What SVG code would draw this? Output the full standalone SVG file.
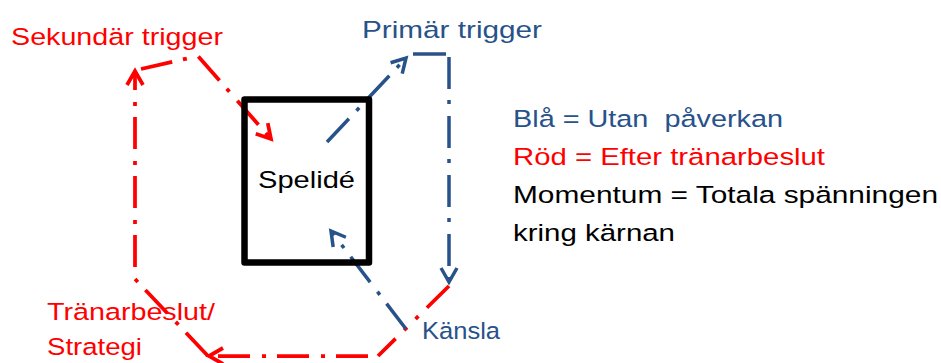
<svg xmlns="http://www.w3.org/2000/svg" width="941" height="363" viewBox="0 0 941 363">
<style>
text{font-family:"Liberation Sans",Arial,sans-serif;font-size:24.5px;white-space:pre}
.red{fill:#FF0000}
.blue{fill:#27528A}
.black{fill:#000}
.lr{fill:none;stroke:#FF0000;stroke-width:3.75;stroke-dasharray:32 11 4 12;stroke-linejoin:miter}
.lb{fill:none;stroke:#27528A;stroke-width:3.5;stroke-dasharray:32 11 4 12;stroke-linejoin:miter}
</style>
<defs>
<marker id="arR" markerUnits="userSpaceOnUse" markerWidth="40" markerHeight="40" viewBox="-20 -20 40 40" refX="0" refY="0" orient="auto" overflow="visible">
<path d="M-14,-8 L0,0 L-14,8" fill="none" stroke="#FF0000" stroke-width="3.75"/>
</marker>
<marker id="arB" markerUnits="userSpaceOnUse" markerWidth="40" markerHeight="40" viewBox="-20 -20 40 40" refX="0" refY="0" orient="auto" overflow="visible">
<path d="M-14,-8 L0,0 L-14,8" fill="none" stroke="#27528A" stroke-width="3.5"/>
</marker>
</defs>
<rect width="941" height="363" fill="#fff"/>

<g id="connectors">
<!-- red: Tränarbeslut up to Sekundär trigger -->
<path class="lr" d="M208,356 L135,279 L135,71" marker-end="url(#arR)"/>
<!-- red: Sekundär trigger to Spelidé -->
<path class="lr" d="M141,69 L198,56 L271,139" marker-end="url(#arR)"/>
<!-- red: Känsla to Tränarbeslut -->
<path class="lr" d="M449,286 L378,356" style="stroke-dasharray:31 12 4 12 4 12 30 40"/>
<path class="lr" d="M378,356 L209,356" style="stroke-dashoffset:49" marker-end="url(#arR)"/>
<!-- blue: Spelidé to Primär trigger -->
<path class="lb" d="M327,142 L406,58" marker-end="url(#arB)"/>
<!-- blue: Primär trigger down to Känsla -->
<path class="lb" d="M413,54 L446,54" style="stroke-dasharray:none"/>
<path class="lb" d="M449,57 L449,282" marker-end="url(#arB)"/>
<!-- blue: Känsla to Spelidé -->
<path class="lb" d="M406,329 L331,231" marker-end="url(#arB)"/>
</g>

<g id="spelide">
<rect x="244.5" y="99.5" width="124.5" height="163" fill="none" stroke="#000" stroke-width="6.5" stroke-linejoin="round"/>
<text class="black" x="258" y="188" textLength="97" lengthAdjust="spacingAndGlyphs">Spelidé</text>
</g>

<g id="sekundar">
<text class="red" x="11" y="45" textLength="212" lengthAdjust="spacingAndGlyphs">Sekundär trigger</text>
</g>

<g id="primar">
<text class="blue" x="362" y="37.5" textLength="180" lengthAdjust="spacingAndGlyphs">Primär trigger</text>
</g>

<g id="kansla">
<text class="blue" x="422" y="339" textLength="78" lengthAdjust="spacingAndGlyphs">Känsla</text>
</g>

<g id="tranarbeslut">
<text class="red" x="47" y="320" textLength="168" lengthAdjust="spacingAndGlyphs">Tränarbeslut/</text>
<text class="red" x="47" y="355" textLength="95" lengthAdjust="spacingAndGlyphs">Strategi</text>
</g>

<g id="legend">
<text class="blue" x="513" y="127" textLength="270" lengthAdjust="spacingAndGlyphs">Blå = Utan  påverkan</text>
<text class="red" x="513" y="165" textLength="312" lengthAdjust="spacingAndGlyphs">Röd = Efter tränarbeslut</text>
<text class="black" x="513" y="203" textLength="425" lengthAdjust="spacingAndGlyphs">Momentum = Totala spänningen</text>
<text class="black" x="513" y="241" textLength="162" lengthAdjust="spacingAndGlyphs">kring kärnan</text>
</g>
</svg>
